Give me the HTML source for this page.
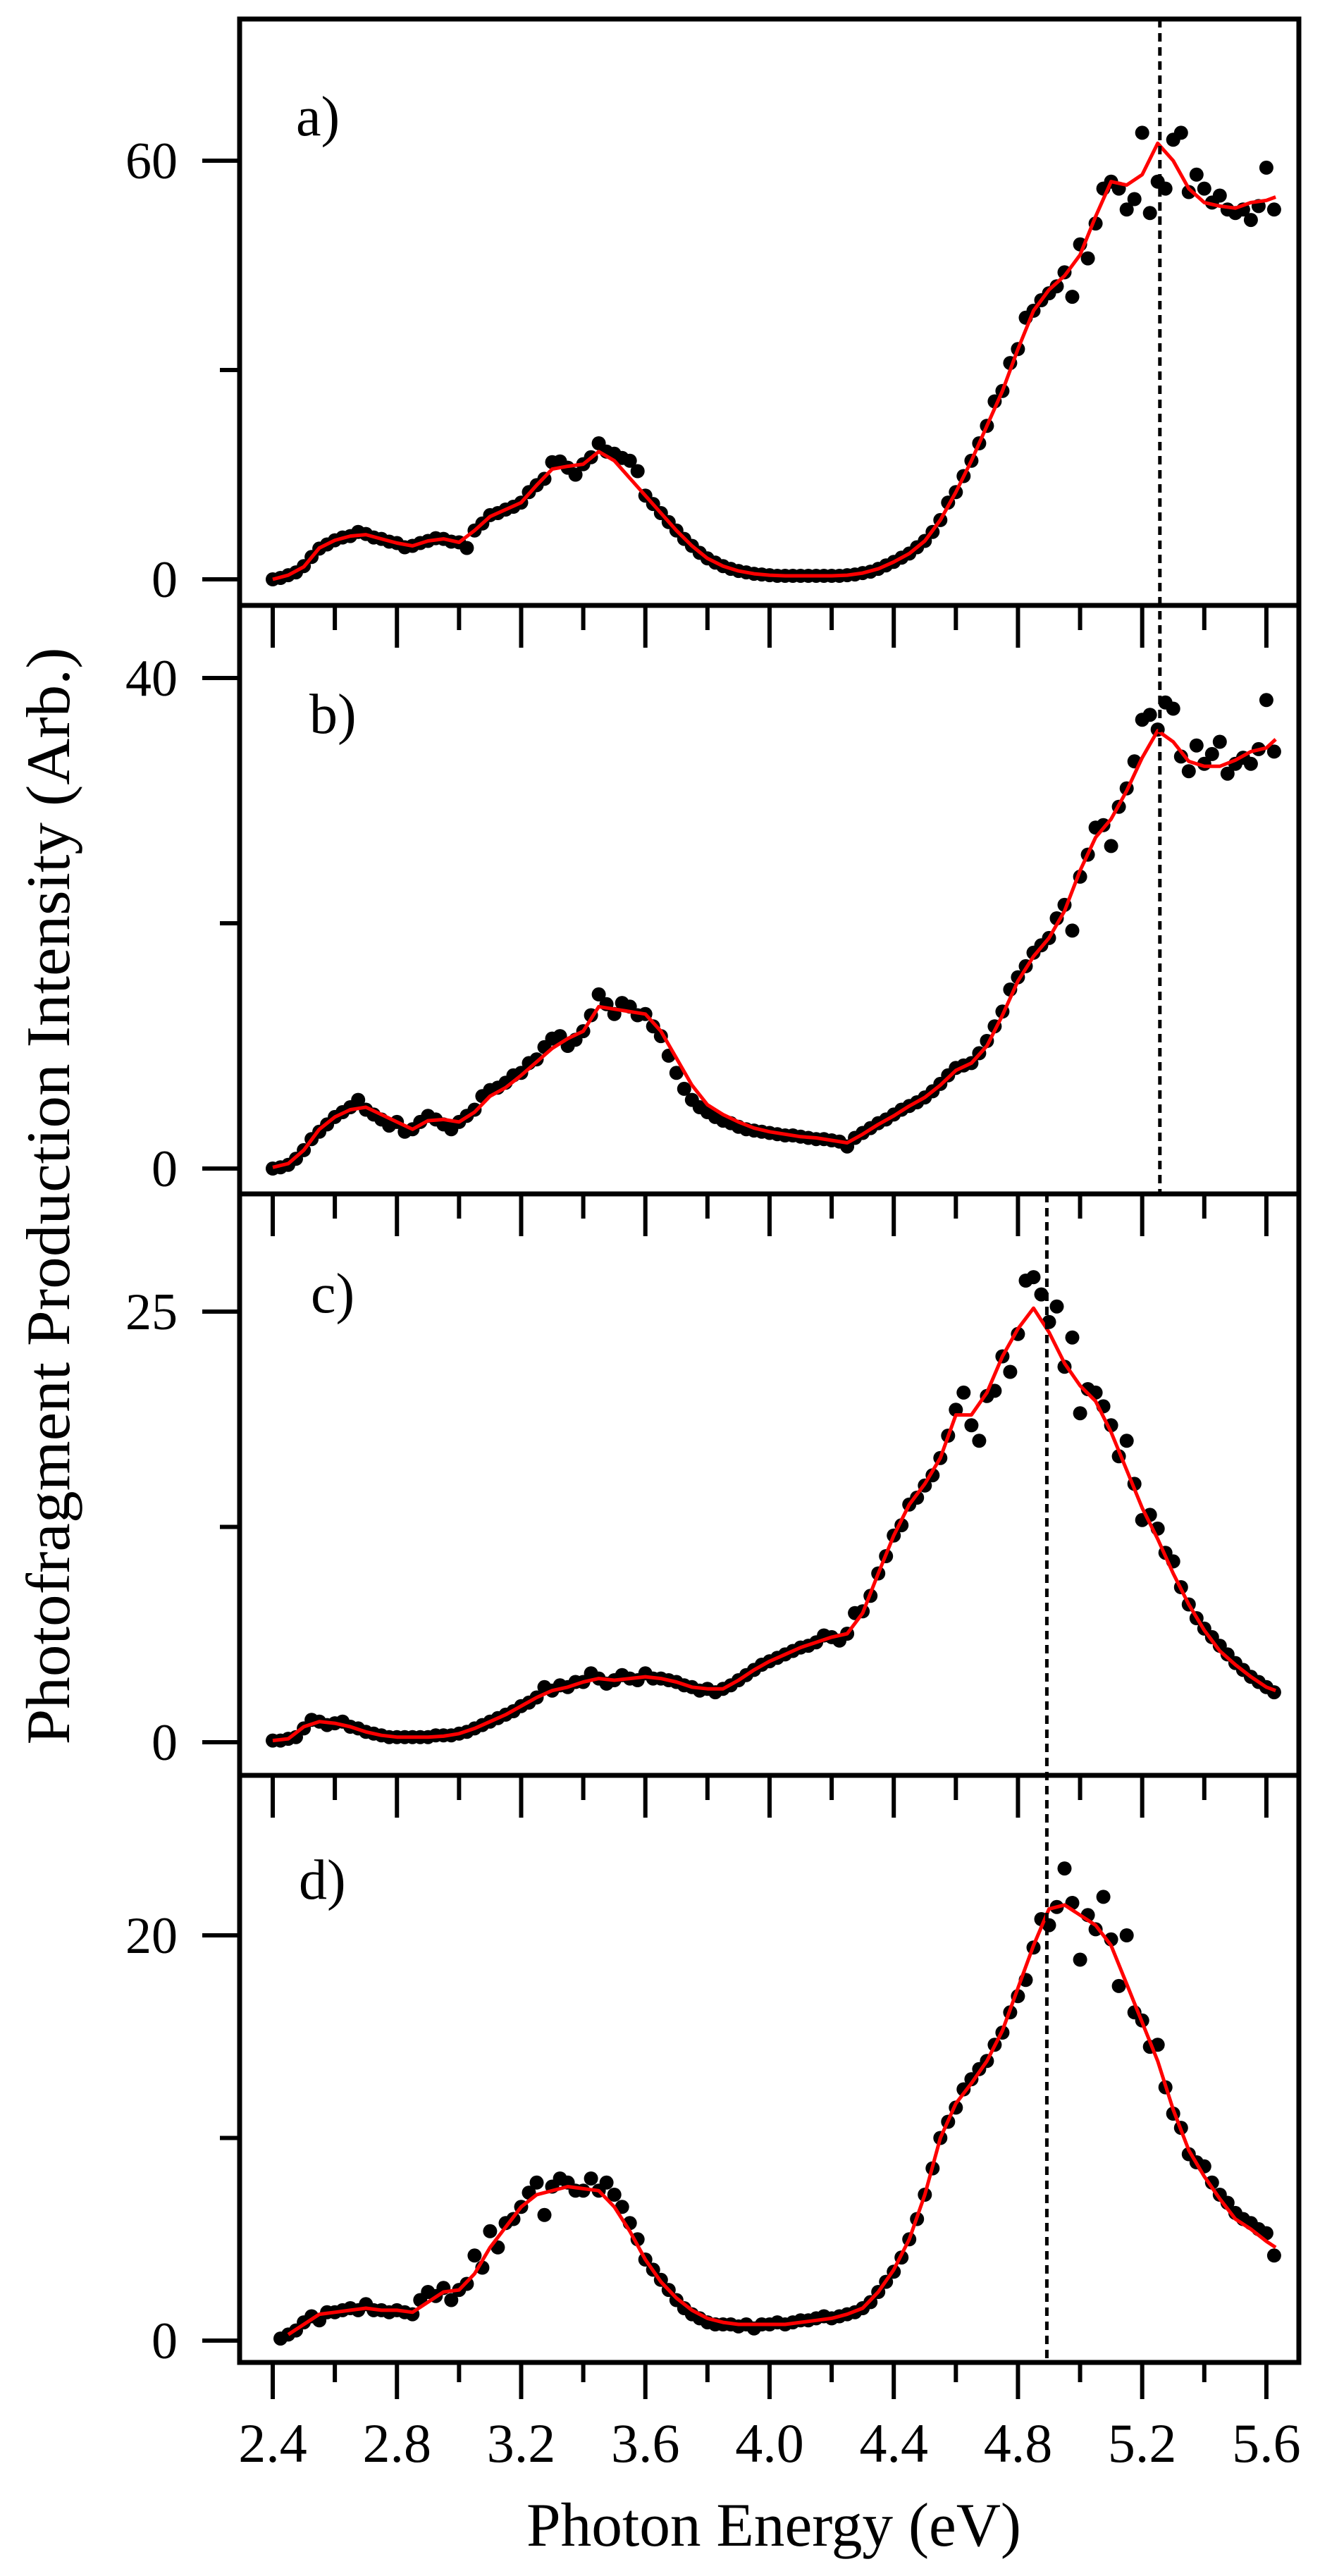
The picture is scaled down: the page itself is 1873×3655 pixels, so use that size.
<!DOCTYPE html>
<html><head><meta charset="utf-8"><style>
html,body{margin:0;padding:0;background:#fff;}
svg{display:block;}
text{font-family:"Liberation Serif",serif;fill:#000;}
</style></head><body>
<svg id="chart" xmlns="http://www.w3.org/2000/svg" width="1873" height="3655" viewBox="0 0 1873 3655">
<rect x="0" y="0" width="1873" height="3655" fill="#fff"/>
<g id="marks"></g>
<text x="1098" y="3612" font-size="88" text-anchor="middle" textLength="702" lengthAdjust="spacingAndGlyphs">Photon Energy (eV)</text>
<text transform="translate(98,1697) rotate(-90)" font-size="88" text-anchor="middle" textLength="1557" lengthAdjust="spacingAndGlyphs">Photofragment Production Intensity (Arb.)</text>
</svg>
<script>
const curveE=[2.40,2.45,2.50,2.55,2.60,2.65,2.70,2.75,2.80,2.85,2.90,2.95,3.00,3.05,3.10,3.15,3.20,3.25,3.30,3.35,3.40,3.45,3.50,3.55,3.60,3.65,3.70,3.75,3.80,3.85,3.90,3.95,4.00,4.05,4.10,4.15,4.20,4.25,4.30,4.35,4.40,4.45,4.50,4.55,4.60,4.65,4.70,4.75,4.80,4.85,4.90,4.95,5.00,5.05,5.10,5.15,5.20,5.25,5.30,5.35,5.40,5.45,5.50,5.55,5.60,5.63];
const curveA=[0,0.6,1.8,4.5,5.6,6.2,6.4,5.8,5.2,4.8,5.5,5.8,5.3,7,9,10,11,13.5,15.8,16.2,16.5,18.3,17,14.5,12,9.5,7,4.8,3,1.9,1.2,0.8,0.6,0.5,0.5,0.5,0.5,0.6,0.9,1.5,2.5,3.7,5.5,8.5,12.5,17,22,27,33,38.5,41.5,43.5,46.5,52,57,56.5,58,62.5,60,56,54,53.5,53.2,54,54.3,54.8];
const curveB=[0.1,0.4,1.5,3.2,4.2,4.8,5,4.4,3.8,3.2,3.9,4,3.8,4.6,5.9,6.6,7.6,8.7,9.8,10.6,11.2,13.2,13,12.8,12.6,11.2,9,6.8,5.2,4.4,3.8,3.3,3,2.8,2.6,2.5,2.3,2.1,2.8,3.6,4.3,5.1,5.8,6.8,8,8.6,10,12.5,15.3,17.3,18.8,21,24.3,27,28.5,30.8,33.5,35.7,34.8,33.2,32.8,32.8,33.3,34,34.3,35];
const curveC=[0.1,0.2,0.9,1.2,1.1,0.9,0.6,0.4,0.3,0.3,0.3,0.35,0.5,0.8,1.2,1.6,2.1,2.6,3.0,3.2,3.5,3.7,3.6,3.7,3.8,3.7,3.5,3.2,3.1,3.1,3.6,4.2,4.7,5.1,5.5,5.8,6.1,6.3,7.5,9.8,12.0,13.8,15.0,16.5,19.0,19.0,20.3,22.4,24.0,25.2,23.8,22.0,20.7,19.8,18.0,15.8,13.6,11.8,9.8,8.0,6.5,5.3,4.5,3.8,3.2,3.0];
const curveD=[null,0.3,0.8,1.3,1.4,1.5,1.6,1.5,1.5,1.4,1.9,2.4,2.5,3.3,4.6,5.6,6.6,7.2,7.4,7.6,7.5,7.4,6.6,5.4,4.0,2.9,2.1,1.5,1.1,0.9,0.8,0.8,0.8,0.8,0.9,1.0,1.1,1.3,1.6,2.4,3.5,5.0,7.2,10.0,11.7,12.7,13.8,15.3,17.4,19.5,21.3,21.5,21.0,20.5,19.5,17.6,15.7,13.8,11.4,9.4,8.1,7.0,6.0,5.5,4.9,4.6];
const pointsStartABC=2.40, pointsStartD=2.425, pointStep=0.025;
const pointsA=[0,0.2,0.6,1.0,1.9,3.2,4.4,5.0, 5.6,6.0,6.2,6.8,6.5,6.0,5.8,5.4, 5.2,4.6,4.8,5.2,5.5,5.9,5.8,5.4, 5.3,4.5,7.0,8.0,9.2,9.5,10.0,10.4, 11.0,12.5,13.5,14.4,16.8,16.9,16.0,15.0, 16.5,17.5,19.5,18.3,18.0,17.4,17.0,15.5, 12.0,10.8,9.5,8.2,7.0,5.8,4.8,3.8, 3.0,2.4,1.9,1.5,1.2,1.0,0.8,0.7, 0.6,0.5,0.5,0.5,0.5,0.5,0.5,0.5, 0.5,0.5,0.6,0.7,0.9,1.1,1.5,2.0, 2.5,3.1,3.7,4.6,5.5,6.8,8.5,11.0, 12.5,14.8,17,19.5,22,25.5,27,31, 33,37.5,38.5,40.0,41,42,44,40.5, 48,46,51,56,57,56,53,54.5, 64,52.5,57,56,63,64,55.5,58, 56,54,55,53,52.5,53,51.5,53.5, 59,53];
const pointsB=[0,0.1,0.3,0.8,1.5,2.4,3.0,3.6, 4.2,4.6,5.0,5.6,4.8,4.4,4.0,3.5, 3.8,3.0,3.2,3.8,4.3,4.0,3.6,3.2, 3.8,4.3,4.8,5.9,6.4,6.6,7.0,7.6, 7.8,8.6,8.9,9.9,10.6,10.8,10.0,10.5, 11.2,12.5,14.2,13.4,12.6,13.5,13.2,12.5, 12.6,11.6,10.8,9.2,7.8,6.5,5.6,5.0, 4.6,4.2,3.9,3.7,3.4,3.2,3.1,3.0, 2.9,2.8,2.7,2.7,2.6,2.5,2.4,2.4, 2.3,2.2,1.8,2.5,2.9,3.3,3.7,4.0, 4.4,4.8,5.1,5.4,5.8,6.3,6.9,7.6, 8.2,8.4,8.6,9.4,10.4,11.6,12.8,14.6, 15.6,16.5,17.6,18.2,18.8,20.4,21.5,19.4, 23.8,25.6,27.8,28.0,26.3,29.5,31.0,33.2, 36.6,37.0,35.8,38.0,37.5,33.6,32.4,34.5, 33.0,33.8,34.8,32.2,33.0,33.5,33.0,34.2, 38.2,34.0];
const pointsC=[0.1,0.1,0.2,0.3,0.8,1.3,1.2,1.0, 1.1,1.2,0.9,0.8,0.6,0.5,0.4,0.3, 0.3,0.3,0.3,0.3,0.3,0.4,0.4,0.4, 0.5,0.6,0.8,1.0,1.2,1.4,1.6,1.8, 2.1,2.3,2.6,3.2,3.0,3.3,3.2,3.5, 3.5,4.0,3.7,3.4,3.6,3.9,3.7,3.6, 4.0,3.7,3.7,3.6,3.5,3.3,3.2,3.0, 3.1,2.9,3.1,3.3,3.6,3.9,4.2,4.5, 4.7,4.9,5.1,5.3,5.5,5.6,5.8,6.2, 6.1,5.9,6.3,7.5,7.6,8.5,9.8,10.8, 12.0,12.6,13.8,14.2,14.9,15.5,16.5,17.8, 19.3,20.3,18.4,17.5,20.1,20.4,22.4,21.5, 23.7,26.8,27.0,26.0,24.4,25.3,21.8,23.5, 19.1,20.5,20.3,19.5,18.4,16.6,17.5,15.0, 12.9,13.2,12.4,11.0,10.5,9.0,8.0,7.2, 6.6,6.1,5.6,5.1,4.6,4.2,3.8,3.5, 3.2,2.9];
const pointsD=[0.1,0.3,0.5,0.9,1.2,1.0,1.4, 1.4,1.5,1.6,1.5,1.8,1.5,1.5,1.4, 1.5,1.4,1.3,2.0,2.4,2.2,2.6,2.0, 2.5,2.8,4.2,3.6,5.4,4.6,5.8,6.0, 6.6,7.3,7.8,6.2,7.6,8.0,7.8,7.4, 7.4,8.0,7.4,7.8,7.2,6.6,5.8,5.0, 4.0,3.5,3.0,2.5,2.0,1.6,1.3,1.1, 0.9,0.8,0.8,0.8,0.7,0.8,0.6,0.8, 0.8,0.9,0.8,0.9,1.0,1.0,1.1,1.2, 1.1,1.2,1.3,1.4,1.6,1.9,2.4,2.9, 3.4,4.1,5.0,6.0,7.2,8.5,10.0,10.8, 11.5,12.4,12.9,13.4,13.8,14.6,15.2,16.2, 17.0,17.8,19.4,20.8,20.5,21.4,23.3,21.6, 18.8,21.0,20.3,21.9,19.8,17.5,20.0,16.2, 15.8,14.5,14.6,12.5,11.2,10.5,9.2,8.8, 8.6,7.8,7.2,6.8,6.3,6.0,5.8,5.5, 5.3,4.2];
const xTickValues=[2.4,2.8,3.2,3.6,4.0,4.4,4.8,5.2,5.6];
const xTickLabels=["2.4","2.8","3.2","3.6","4.0","4.4","4.8","5.2","5.6"];
const xMinorValues=[2.6,3.0,3.4,3.8,4.2,4.6,5.0,5.4];
const panelNames=["a","b","c","d"];
const yMajorA=[0,60], yMinorA=[30];
const yMajorB=[0,40], yMinorB=[20];
const yMajorC=[0,25], yMinorC=[12.5];
const yMajorD=[0,20], yMinorD=[10];
const dashEnergyAB=5.257, dashEnergyCD=4.893;

const NS="http://www.w3.org/2000/svg";
const root=document.getElementById('marks');
const X0=340,X1=1843;
function xs(e){return 387+(e-2.4)*440.6;}
const panels=[
 {top:27,bot:859,y0:822,yTop:228,vTop:60,maj:yMajorA,min:yMinorA,curve:curveA,pts:pointsA,start:pointsStartABC,lx:420,ly:192},
 {top:859,bot:1694,y0:1658,yTop:962,vTop:40,maj:yMajorB,min:yMinorB,curve:curveB,pts:pointsB,start:pointsStartABC,lx:439,ly:1040},
 {top:1694,bot:2519,y0:2472,yTop:1861,vTop:25,maj:yMajorC,min:yMinorC,curve:curveC,pts:pointsC,start:pointsStartABC,lx:441,ly:1862},
 {top:2519,bot:3352,y0:3321,yTop:2746,vTop:20,maj:yMajorD,min:yMinorD,curve:curveD,pts:pointsD,start:pointsStartD,lx:424,ly:2694}
];
function mk(tag,attrs,parent){const el=document.createElementNS(NS,tag);for(const k in attrs)el.setAttribute(k,attrs[k]);(parent||root).appendChild(el);return el;}
panels.forEach((p,i)=>{
 const nm=panelNames[i];
 const ys=v=>p.y0+(p.yTop-p.y0)*v/p.vTop;
 const g=mk('g',{});
 
 
 p.pts.forEach((v,k)=>{
  const e=p.start+k*pointStep;
  const c=mk('circle',{cx:xs(e).toFixed(1),cy:ys(v).toFixed(1),r:10,fill:'#000'},g);
  
  
 });
 let d='';
 p.curve.forEach((v,k)=>{if(v===null)return;d+=(d?'L':'M')+xs(curveE[k]).toFixed(1)+','+ys(v).toFixed(1);});
 const path=mk('path',{d:d,fill:'none',stroke:'#ff0000','stroke-width':5,'stroke-linejoin':'round'},g);
 
 
 p.maj.forEach(v=>{
  const t=mk('line',{x1:287,x2:X0,y1:ys(v),y2:ys(v),stroke:'#000','stroke-width':6},g);
  
  
  const tx=mk('text',{x:252,y:ys(v)+25,'font-size':74,'text-anchor':'end'},g);
  tx.textContent=String(v);
  
  
 });
 p.min.forEach(v=>{
  const t=mk('line',{x1:312,x2:X0,y1:ys(v),y2:ys(v),stroke:'#000','stroke-width':6},g);
  
  
 });
 if(i>0){
  xTickValues.forEach(e=>{const t=mk('line',{x1:xs(e),x2:xs(e),y1:p.top,y2:p.top+60,stroke:'#000','stroke-width':6},g);
   
   });
  xMinorValues.forEach(e=>{const t=mk('line',{x1:xs(e),x2:xs(e),y1:p.top,y2:p.top+35,stroke:'#000','stroke-width':6},g);
   
   });
 }
 const fr=mk('rect',{x:X0,y:p.top,width:X1-X0,height:p.bot-p.top,fill:'none',stroke:'#000','stroke-width':7},g);
 
 
 const lb=mk('text',{x:p.lx,y:p.ly,'font-size':80},g);
 lb.textContent=nm+')';
 
 
});
xTickValues.forEach((e,k)=>{
 const t=mk('line',{x1:xs(e),x2:xs(e),y1:3352,y2:3404,stroke:'#000','stroke-width':6});
 
 
 const tx=mk('text',{x:xs(e),y:3493,'font-size':78,'text-anchor':'middle'});
 tx.textContent=xTickLabels[k];
 
 
});
xMinorValues.forEach(e=>{
 const t=mk('line',{x1:xs(e),x2:xs(e),y1:3352,y2:3380,stroke:'#000','stroke-width':6});
 
 
});
const d1=mk('line',{x1:xs(dashEnergyAB),x2:xs(dashEnergyAB),y1:27,y2:1694,stroke:'#000','stroke-width':5,'stroke-dasharray':'12 8'});


const d2=mk('line',{x1:xs(dashEnergyCD),x2:xs(dashEnergyCD),y1:1694,y2:3352,stroke:'#000','stroke-width':5,'stroke-dasharray':'12 8'});


</script>
</body></html>
